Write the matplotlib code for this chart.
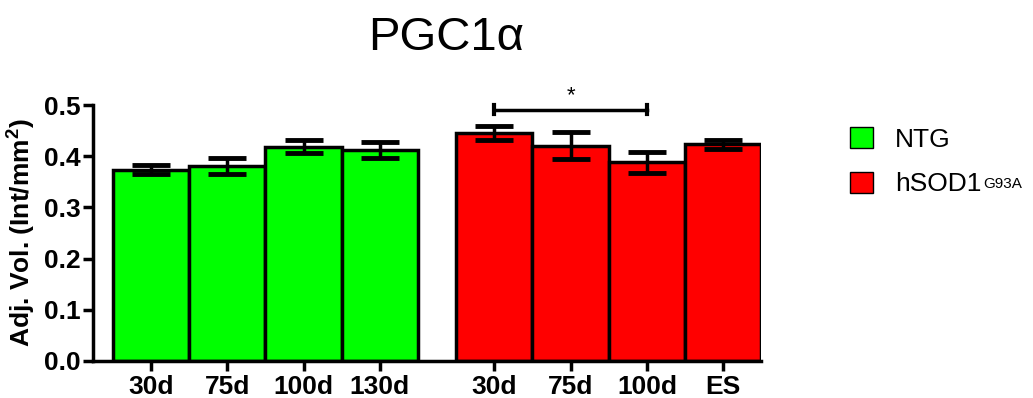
import matplotlib
matplotlib.use('Agg')
import matplotlib.pyplot as plt
from matplotlib.patches import Patch

plt.rcParams['font.family'] = ['Liberation Sans', 'DejaVu Sans']
plt.rcParams['mathtext.fontset'] = 'custom'
plt.rcParams['mathtext.rm'] = 'Liberation Sans'
plt.rcParams['mathtext.bf'] = 'Liberation Sans:bold'

ntg_labels = ['30d', '75d', '100d', '130d']
ntg_vals = [0.374, 0.381, 0.419, 0.412]
ntg_err = [0.009, 0.015, 0.013, 0.015]

sod_labels = ['30d', '75d', '100d', 'ES']
sod_vals = [0.446, 0.421, 0.388, 0.423]
sod_err = [0.014, 0.027, 0.021, 0.009]

ntg_x = [0, 1, 2, 3]
sod_x = [4.5, 5.5, 6.5, 7.5]

fig = plt.figure(figsize=(10.33, 3.98), dpi=100)
ax = fig.add_axes([0.090, 0.093, 0.647, 0.643])

ekw = dict(elinewidth=2.5, capthick=3.5, capsize=14, ecolor='black')
b1 = ax.bar(ntg_x, ntg_vals, width=1, color='#00ff00', edgecolor='black', linewidth=2.5,
            yerr=ntg_err, error_kw=ekw, zorder=2)
b2 = ax.bar(sod_x, sod_vals, width=1, color='#ff0000', edgecolor='black', linewidth=2.5,
            yerr=sod_err, error_kw=ekw, zorder=2)

# significance bracket 30d vs 100d
ax.plot([sod_x[0], sod_x[2]], [0.491, 0.491], color='black', lw=2.5, clip_on=False)
ax.plot([sod_x[0], sod_x[0]], [0.482, 0.500], color='black', lw=3, clip_on=False)
ax.plot([sod_x[2], sod_x[2]], [0.482, 0.500], color='black', lw=3, clip_on=False)
ax.text(sod_x[1], 0.497, '*', ha='center', va='bottom', fontsize=16)

ax.set_xlim(-0.76, 8.0)
ax.set_ylim(0, 0.5)
ax.set_yticks([0.0, 0.1, 0.2, 0.3, 0.4, 0.5])
ax.set_yticklabels(['0.0', '0.1', '0.2', '0.3', '0.4', '0.5'])
ax.set_xticks(ntg_x + sod_x)
ax.set_xticklabels(ntg_labels + sod_labels)
for lab in ax.get_xticklabels() + ax.get_yticklabels():
    lab.set_fontweight('bold')
    lab.set_fontsize(19)
ax.tick_params(axis='both', width=2.5, length=7, color='black')
ax.tick_params(axis='x', pad=3)
ax.tick_params(axis='y', pad=2)
ax.spines['top'].set_visible(False)
ax.spines['right'].set_visible(False)
ax.spines['left'].set_linewidth(2.5)
ax.spines['bottom'].set_linewidth(2.5)

ax.set_ylabel('Adj. Vol. (Int/mm$^{\\bf 2}$)', fontsize=19, fontweight='bold', labelpad=5)

fig.text(0.432, 0.905, 'PGC1α', ha='center', va='center', fontsize=34)

handles = [Patch(facecolor='#00ff00', edgecolor='black', linewidth=1),
           Patch(facecolor='#ff0000', edgecolor='black', linewidth=1)]
leg = fig.legend(handles, ['NTG', 'hSOD1'], loc='upper left',
                 bbox_to_anchor=(0.80, 0.74), frameon=False, fontsize=19,
                 handlelength=0.85, handleheight=0.85, labelspacing=0.75,
                 handletextpad=0.85)

# small superscript after hSOD1
fig.canvas.draw()
bb = leg.get_texts()[1].get_window_extent().transformed(fig.transFigure.inverted())
fig.text(bb.x1 + 0.002, bb.y1 - 0.012, 'G93A', ha='left', va='top', fontsize=11)

fig.savefig('out.png', dpi=100)
